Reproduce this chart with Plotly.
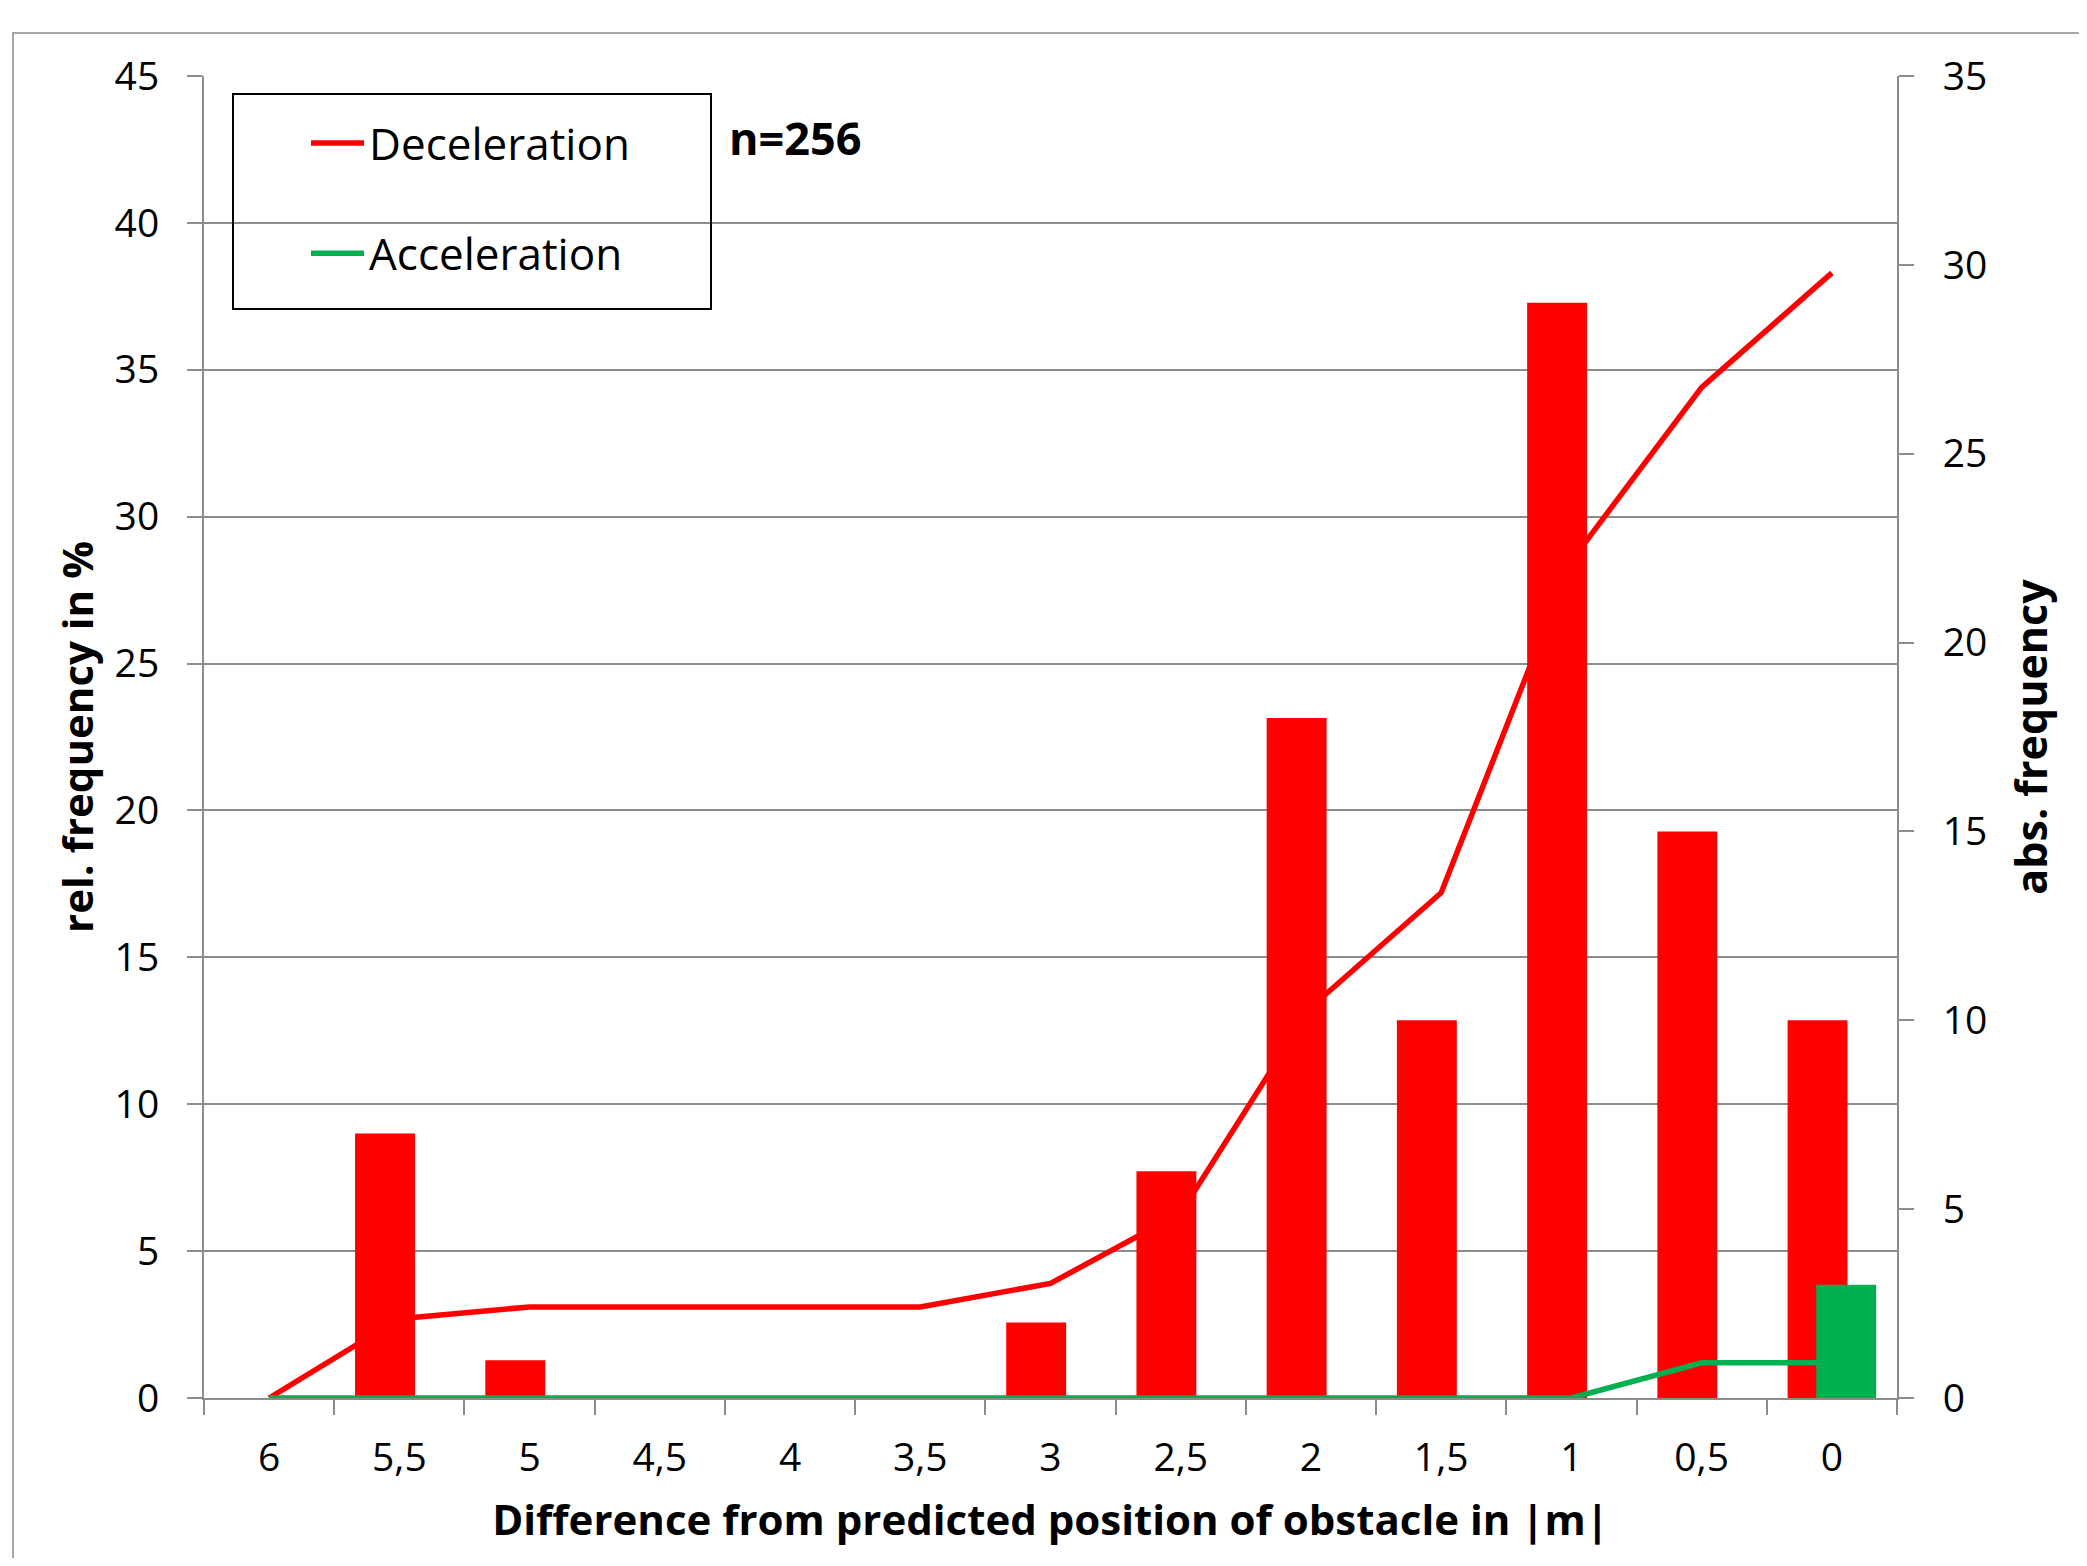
import plotly.graph_objects as go

# ---- data ----
categories = ["6", "5,5", "5", "4,5", "4", "3,5", "3", "2,5", "2", "1,5", "1", "0,5", "0"]
decel_abs = [0, 7, 1, 0, 0, 0, 2, 6, 18, 10, 29, 15, 10]
accel_abs = [0, 0, 0, 0, 0, 0, 0, 0, 0, 0, 0, 0, 3]
decel_rel = [0, 2.7, 3.1, 3.1, 3.1, 3.1, 3.9, 6.3, 13.3, 17.2, 28.5, 34.4, 38.3]
accel_rel = [0, 0, 0, 0, 0, 0, 0, 0, 0, 0, 0, 1.2, 1.2]
left_ticks = [0, 5, 10, 15, 20, 25, 30, 35, 40, 45]
right_ticks = [0, 5, 10, 15, 20, 25, 30, 35]

RED = "#FF0000"
GREEN = "#00B050"
GRID = "#8C8C8C"
FONT = "Open Sans"

OFF = 8  # page body margin
W, H = 2071, 1550
L, R, T, B = 196, 182, 68, 160
PW, PH = W - L - R, H - T - B


def px_x(px):
    return (px - OFF - L) / PW


def px_y(py):
    return (H + OFF - B - py) / PH


fig = go.Figure()

fig.add_trace(go.Bar(x=categories, y=decel_abs, yaxis="y", marker=dict(color=RED, line=dict(width=0)),
                     width=0.46, offset=-0.34, showlegend=False, name="Deceleration (abs)"))
fig.add_trace(go.Bar(x=categories, y=accel_abs, yaxis="y", marker=dict(color=GREEN, line=dict(width=0)),
                     width=0.46, offset=-0.12, showlegend=False, name="Acceleration (abs)"))

fig.add_trace(go.Scatter(x=categories, y=decel_rel, yaxis="y2", mode="lines", name="Deceleration",
                         line=dict(color=RED, width=5.5), legendgroup="a"))
fig.add_trace(go.Scatter(x=categories, y=accel_rel, yaxis="y2", mode="lines", name="Acceleration",
                         line=dict(color=GREEN, width=5.5), legendgroup="b"))

fig.update_layout(
    width=W, height=H,
    margin=dict(l=L, r=R, t=T, b=B, pad=0),
    paper_bgcolor="white", plot_bgcolor="white",
    font=dict(family=FONT, size=39, color="black"),
    barmode="overlay",
    xaxis=dict(
        type="category", categoryorder="array", categoryarray=categories,
        tickson="boundaries", ticks="outside", ticklen=15, tickwidth=2, tickcolor=GRID,
        showline=True, linecolor=GRID, linewidth=2, showgrid=False, zeroline=False,
        tickfont=dict(family=FONT, size=39), ticklabelstandoff=24,
        title=dict(text="Difference from predicted position of obstacle in |m|",
                   font=dict(family=FONT, size=42, weight=700), standoff=25),
    ),
    yaxis=dict(
        side="right", range=[0, 35], tickvals=right_ticks,
        ticks="outside", ticklen=15, tickwidth=2, tickcolor=GRID,
        showline=True, linecolor=GRID, linewidth=2, showgrid=False, zeroline=False,
        tickfont=dict(family=FONT, size=39), ticklabelstandoff=21,
        title=dict(text="abs. frequency", font=dict(family=FONT, size=43, weight=700), standoff=30),
    ),
    yaxis2=dict(
        overlaying="y", side="left", range=[0, 45], tickvals=left_ticks,
        ticks="outside", ticklen=15, tickwidth=2, tickcolor=GRID,
        showline=True, linecolor=GRID, linewidth=2,
        showgrid=True, gridcolor=GRID, gridwidth=2, zeroline=False,
        tickfont=dict(family=FONT, size=39), ticklabelstandoff=20,
        title=dict(text="rel. frequency in %", font=dict(family=FONT, size=42, weight=700), standoff=8),
    ),
    legend=dict(
        x=px_x(306), y=px_y(108), xanchor="left", yanchor="top",
        bgcolor="rgba(0,0,0,0)", borderwidth=0, itemwidth=53,
        font=dict(family=FONT, size=44), traceorder="grouped", tracegroupgap=50,
    ),
    showlegend=True,
)

# legend frame
fig.add_shape(type="rect", xref="paper", yref="paper",
              x0=px_x(233), x1=px_x(711), y0=px_y(309), y1=px_y(94),
              line=dict(color="black", width=2), fillcolor="rgba(0,0,0,0)", layer="above")
# chart outer frame
fig.add_shape(type="rect", xref="paper", yref="paper",
              x0=px_x(13), x1=px_x(2200), y0=px_y(1700), y1=px_y(33),
              line=dict(color="#A6A6A6", width=2), fillcolor="rgba(0,0,0,0)", layer="below")

fig.add_annotation(text="n=256", xref="paper", yref="paper", x=px_x(795), y=px_y(137),
                   xanchor="center", yanchor="middle", showarrow=False,
                   font=dict(family=FONT, size=45, weight=700, color="black"))

fig.write_html("out.html")
